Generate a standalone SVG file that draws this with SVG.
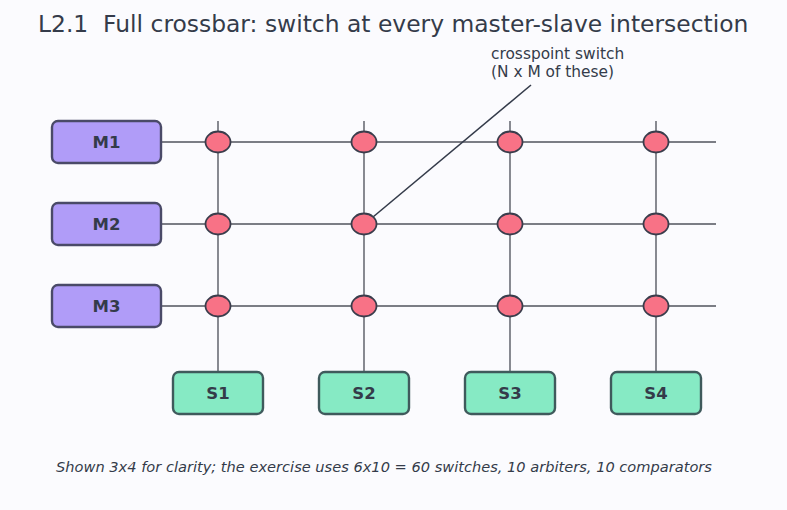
<svg xmlns="http://www.w3.org/2000/svg" width="787" height="510" viewBox="0 0 787 510">
<style>
text{font-family:"DejaVu Sans","Liberation Sans",sans-serif;fill:#343b4a}
.title{font-size:23.4px}
.lbl{font-size:16.5px;font-weight:bold;text-anchor:middle}
.ann{font-size:15.4px}
.cap{font-size:14.6px;font-style:italic;text-anchor:middle}
.m{fill:#b09cf8;stroke:#4a4a68;stroke-width:2.4}
.s{fill:#86eac4;stroke:#3f5a5c;stroke-width:2.4}
.sw{fill:#f87286;stroke:#3a3d4c;stroke-width:1.8}
.bus{stroke:#7b7d85;stroke-width:1.8;fill:none}
</style>
<rect width="787" height="510" fill="#fbfbfe"/>
<text class="title" x="38" y="32" xml:space="preserve">L2.1  Full crossbar: switch at every master-slave intersection</text>
<g id="connectors">
<line class="bus" x1="161" y1="142" x2="716" y2="142"/>
<line class="bus" x1="161" y1="224" x2="716" y2="224"/>
<line class="bus" x1="161" y1="306" x2="716" y2="306"/>
<line class="bus" x1="218" y1="121" x2="218" y2="372"/>
<line class="bus" x1="364" y1="121" x2="364" y2="372"/>
<line class="bus" x1="510" y1="121" x2="510" y2="372"/>
<line class="bus" x1="656" y1="121" x2="656" y2="372"/>
<line x1="531" y1="85" x2="373" y2="217" stroke="#343b4a" stroke-width="1.6"/>
</g>
<g id="M1"><rect class="m" x="52" y="121" width="109" height="42" rx="6"/><text class="lbl" x="106.5" y="148">M1</text></g>
<g id="M2"><rect class="m" x="52" y="203" width="109" height="42" rx="6"/><text class="lbl" x="106.5" y="230">M2</text></g>
<g id="M3"><rect class="m" x="52" y="285" width="109" height="42" rx="6"/><text class="lbl" x="106.5" y="312">M3</text></g>
<g id="S1"><rect class="s" x="173" y="372" width="90" height="42" rx="6"/><text class="lbl" x="218" y="399">S1</text></g>
<g id="S2"><rect class="s" x="319" y="372" width="90" height="42" rx="6"/><text class="lbl" x="364" y="399">S2</text></g>
<g id="S3"><rect class="s" x="465" y="372" width="90" height="42" rx="6"/><text class="lbl" x="510" y="399">S3</text></g>
<g id="S4"><rect class="s" x="611" y="372" width="90" height="42" rx="6"/><text class="lbl" x="656" y="399">S4</text></g>
<g id="switches">
<ellipse class="sw" cx="218" cy="142" rx="12.5" ry="10.5"/>
<ellipse class="sw" cx="364" cy="142" rx="12.5" ry="10.5"/>
<ellipse class="sw" cx="510" cy="142" rx="12.5" ry="10.5"/>
<ellipse class="sw" cx="656" cy="142" rx="12.5" ry="10.5"/>
<ellipse class="sw" cx="218" cy="224" rx="12.5" ry="10.5"/>
<ellipse class="sw" cx="364" cy="224" rx="12.5" ry="10.5"/>
<ellipse class="sw" cx="510" cy="224" rx="12.5" ry="10.5"/>
<ellipse class="sw" cx="656" cy="224" rx="12.5" ry="10.5"/>
<ellipse class="sw" cx="218" cy="306" rx="12.5" ry="10.5"/>
<ellipse class="sw" cx="364" cy="306" rx="12.5" ry="10.5"/>
<ellipse class="sw" cx="510" cy="306" rx="12.5" ry="10.5"/>
<ellipse class="sw" cx="656" cy="306" rx="12.5" ry="10.5"/>
</g>
<text class="ann" x="491" y="59">crosspoint switch</text>
<text class="ann" x="491" y="77">(N x M of these)</text>
<text class="cap" x="384" y="472">Shown 3x4 for clarity; the exercise uses 6x10 = 60 switches, 10 arbiters, 10 comparators</text>
</svg>
